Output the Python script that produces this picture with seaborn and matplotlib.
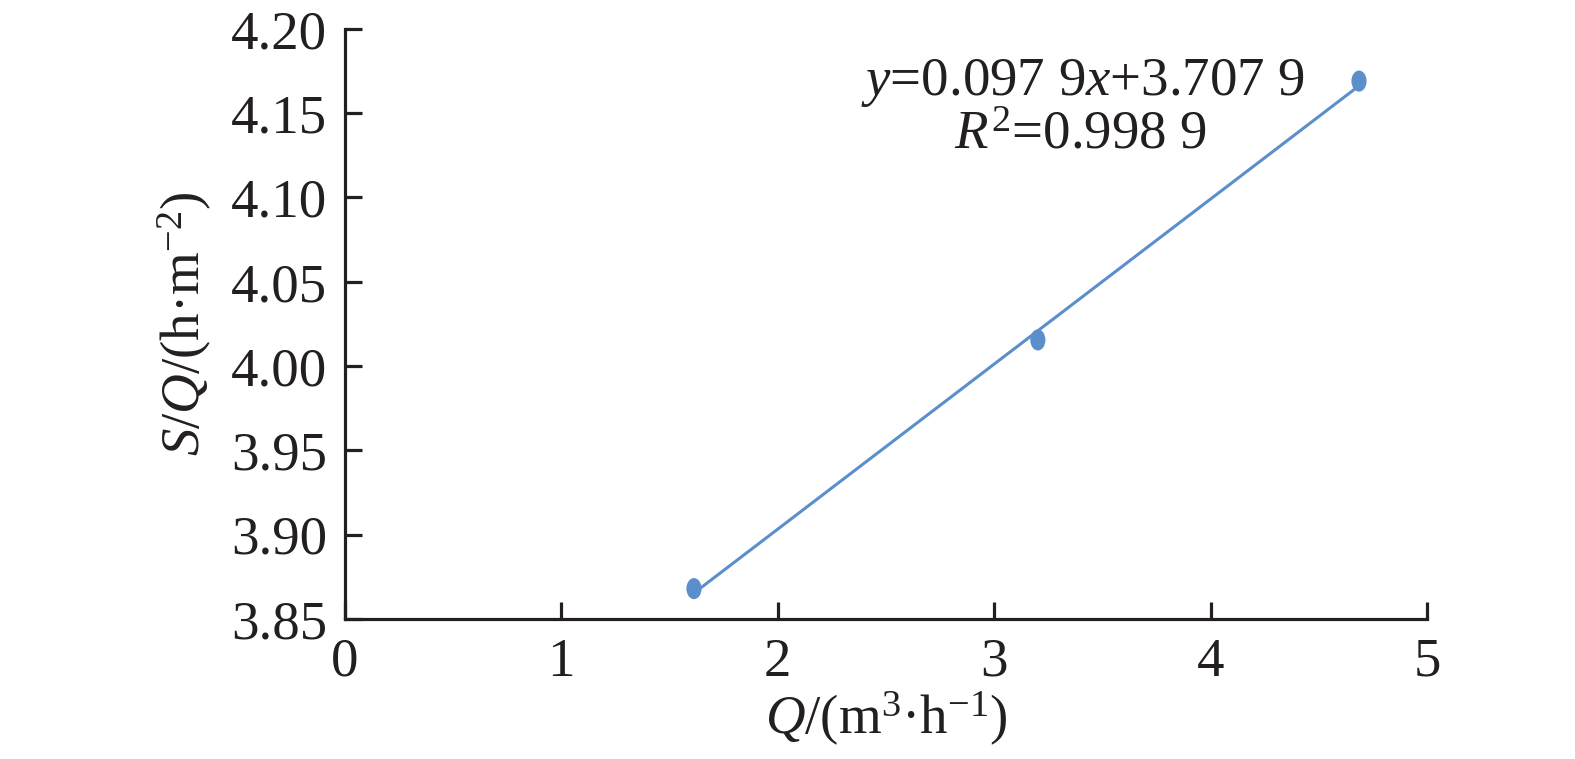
import matplotlib
matplotlib.use("Agg")
import matplotlib.pyplot as plt
from matplotlib.path import Path
from matplotlib.transforms import Affine2D
import seaborn as sns
import pandas as pd

# data
q_values = [1.613, 3.202, 4.686]      # Q / (m3/h)
sq_values = [3.868, 4.0155, 4.169]    # S/Q / (h/m2)
x_ticks = [0, 1, 2, 3, 4, 5]
y_ticks = [3.85, 3.90, 3.95, 4.00, 4.05, 4.10, 4.15, 4.20]
equation = r"$y$=0.097 9$x$+3.707 9"
r_squared = r"$R^2$=0.998 9"

sns.set_style("white")
plt.rcParams["font.family"] = ["Liberation Serif", "DejaVu Serif"]
plt.rcParams["mathtext.fontset"] = "custom"
plt.rcParams["mathtext.rm"] = "Liberation Serif"
plt.rcParams["mathtext.it"] = "Liberation Serif:italic"
plt.rcParams["mathtext.bf"] = "Liberation Serif:bold"

ink = "#231f20"
blue = "#5b8fcb"
fs = 39.5

# slightly tall ellipse marker like the original
ellipse = Path.unit_circle().transformed(Affine2D().scale(0.72, 1.0))

df = pd.DataFrame({"Q": q_values, "SQ": sq_values})

fig = plt.figure(figsize=(15.75, 7.59), dpi=100)
ax = fig.add_axes([0.219, 0.1845, 0.687, 0.7775])

sns.regplot(data=df, x="Q", y="SQ", ax=ax, ci=None, color=blue,
            marker=ellipse,
            scatter_kws={"s": 230, "edgecolor": "none", "alpha": 1},
            line_kws={"linewidth": 2.2})

ax.set_xlim(0, 5)
ax.set_ylim(3.85, 4.20)
ax.set_xticks(x_ticks)
ax.set_yticks(y_ticks)
ax.set_xticklabels([str(t) for t in x_ticks])
ax.set_yticklabels([f"{t:.2f}" for t in y_ticks])

for side in ["top", "right"]:
    ax.spines[side].set_visible(False)
for side in ["left", "bottom"]:
    ax.spines[side].set_color(ink)
    ax.spines[side].set_linewidth(2.3)

ax.tick_params(axis="both", direction="in", length=12, width=2.3,
               color=ink, labelcolor=ink, labelsize=fs, pad=13)
ax.tick_params(axis="x", bottom=True)
ax.tick_params(axis="y", left=True)

ax.set_xlabel(r"$Q$/(m$^3$·h$^{-1}$)", fontsize=fs, color=ink, labelpad=2)
ax.set_ylabel(r"$S$/$Q$/(h·m$^{-2}$)", fontsize=fs, color=ink, labelpad=12)

ax.text(3.41, 4.168, equation, fontsize=fs, color=ink, ha="center", va="center")
ax.text(3.40, 4.137, r_squared, fontsize=fs, color=ink, ha="center", va="center")

fig.savefig("out.png", dpi=100)
plt.close(fig)
